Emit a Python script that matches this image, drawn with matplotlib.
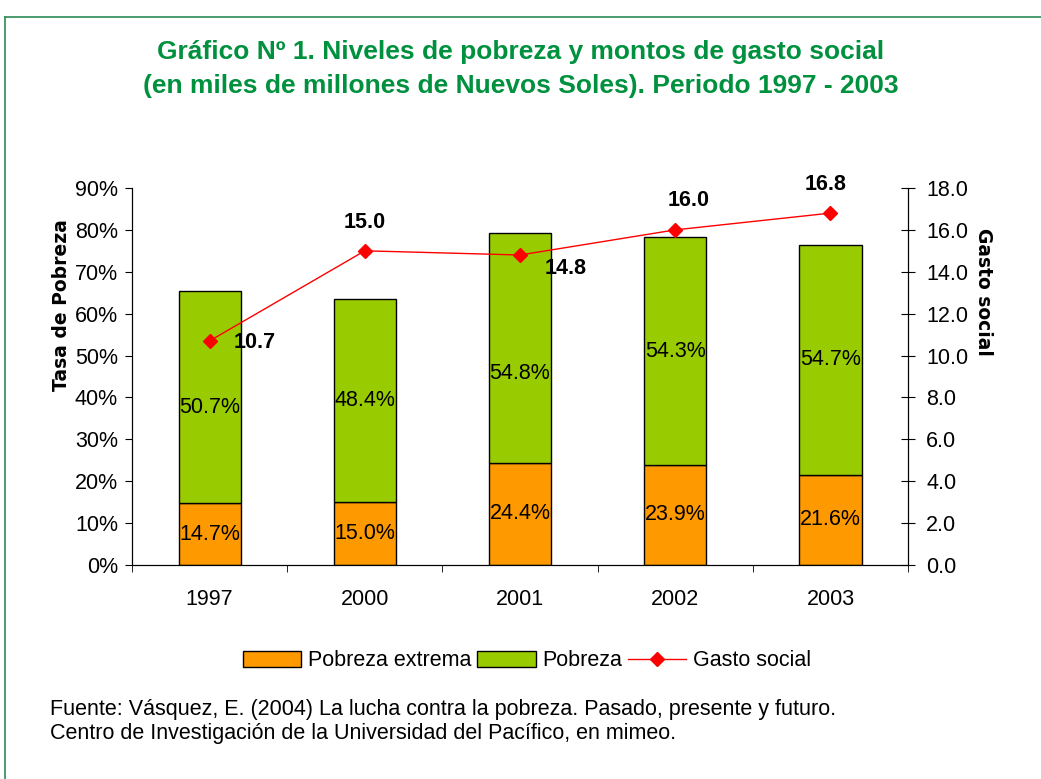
import matplotlib.pyplot as plt
from matplotlib.patches import Patch
from matplotlib.lines import Line2D
import numpy as np

plt.rcParams['font.family'] = ['Liberation Sans', 'DejaVu Sans']

# datos
anios = ['1997', '2000', '2001', '2002', '2003']
pobreza_extrema = [14.7, 15.0, 24.4, 23.9, 21.6]
pobreza = [50.7, 48.4, 54.8, 54.3, 54.7]
gasto_social = [10.7, 15.0, 14.8, 16.0, 16.8]

naranja = '#FF9900'
verde = '#99CC00'
verde_titulo = '#00913F'
fs = 15.5

fig = plt.figure(figsize=(10.41, 7.79), dpi=100)
ax = fig.add_axes([0.1268, 0.2747, 0.8723 - 0.1268, 0.7587 - 0.2747])

x = np.arange(len(anios))
ext = np.array(pobreza_extrema) / 100
pob = np.array(pobreza) / 100
ax.bar(x, ext, width=0.4, color=naranja, edgecolor='black', linewidth=1)
ax.bar(x, pob, width=0.4, bottom=ext, color=verde, edgecolor='black', linewidth=1)

# etiquetas de las barras
desplaz = [-0.024, 0, -0.06, 0, 0]
for i in range(len(anios)):
    ax.text(x[i], ext[i] / 2, f'{pobreza_extrema[i]:.1f}%', ha='center', va='center', fontsize=fs)
    ax.text(x[i], ext[i] + pob[i] / 2 + desplaz[i], f'{pobreza[i]:.1f}%', ha='center', va='center', fontsize=fs)

ax.set_xlim(-0.5, 4.5)
ax.set_ylim(0, 0.9)
ax.set_yticks(np.arange(0, 0.91, 0.1))
ax.set_yticklabels([f'{int(round(v * 100))}%' for v in np.arange(0, 0.91, 0.1)], fontsize=fs)
ax.set_xticks(x)
ax.set_xticklabels(anios, fontsize=fs)
ax.set_xticks(np.arange(-0.5, 4.6, 1), minor=True)
ax.tick_params(axis='x', which='major', length=0, pad=17)
ax.tick_params(axis='x', which='minor', length=5, direction='out')
ax.tick_params(axis='y', length=5, direction='out', pad=5)
ax.spines['top'].set_visible(False)
ax.set_ylabel('Tasa de Pobreza', fontsize=13.5, fontweight='bold', family='DejaVu Sans')
ax.yaxis.set_label_coords(-0.078, 0.69)

# eje secundario
ax2 = ax.twinx()
ax2.plot(x, gasto_social, color='red', linewidth=1, marker='D', markersize=7)
ax2.set_ylim(0, 18)
ax2.set_yticks(np.arange(0, 18.1, 2))
ax2.set_yticklabels([f'{v:.1f}' for v in np.arange(0, 18.1, 2)], fontsize=fs)
ax2.tick_params(axis='y', length=10, direction='inout', pad=8)
ax2.spines['top'].set_visible(False)
ax2.set_ylabel('Gasto social', fontsize=13.5, fontweight='bold', family='DejaVu Sans', rotation=-90)
ax2.yaxis.set_label_coords(1.11, 0.724)

# etiquetas del gasto
offs = [(45, -2), (0, 28), (46, -13), (13, 29), (-5, 29)]
for i, v in enumerate(gasto_social):
    ax2.annotate(f'{v:.1f}', (x[i], v), xytext=offs[i], textcoords='offset pixels',
                 ha='center', va='center', fontsize=fs, fontweight='bold')

# titulo
fig.text(0.5, 1 - 52 / 779, 'Gráfico Nº 1. Niveles de pobreza y montos de gasto social',
         ha='center', va='center', fontsize=19, fontweight='bold', color=verde_titulo)
fig.text(0.5, 1 - 86 / 779, '(en miles de millones de Nuevos Soles). Periodo 1997 - 2003',
         ha='center', va='center', fontsize=19, fontweight='bold', color=verde_titulo)

# leyenda
handles = [Patch(facecolor=naranja, edgecolor='black', label='Pobreza extrema'),
           Patch(facecolor=verde, edgecolor='black', label='Pobreza'),
           Line2D([], [], color='red', linewidth=1, marker='D', markersize=7, label='Gasto social')]
fig.legend(handles=handles, loc='center', bbox_to_anchor=(527 / 1041, 1 - 661 / 779), ncol=3,
           frameon=False, fontsize=fs, handlelength=2.7, handleheight=0.7, columnspacing=0.3,
           handletextpad=0.3)

# fuente
fig.text(50 / 1041, 1 - 709 / 779, 'Fuente: Vásquez, E. (2004) La lucha contra la pobreza. Pasado, presente y futuro.',
         ha='left', va='center', fontsize=fs)
fig.text(50 / 1041, 1 - 734 / 779, 'Centro de Investigación de la Universidad del Pacífico, en mimeo.',
         ha='left', va='center', fontsize=fs)

# marco
fig.add_artist(Line2D([5 / 1041, 1], [1 - 17 / 779, 1 - 17 / 779], color='#2E8B57', linewidth=1.2))
fig.add_artist(Line2D([5 / 1041, 5 / 1041], [0, 1 - 17 / 779], color='#2E8B57', linewidth=1.2))

fig.savefig('out.png', dpi=100)
